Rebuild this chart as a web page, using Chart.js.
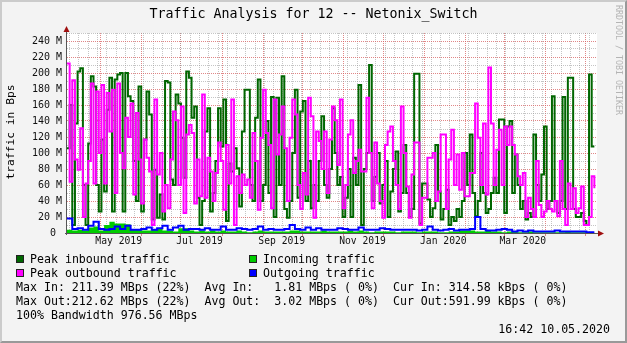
<!DOCTYPE html>
<html>
<head>
<meta charset="utf-8">
<title>Traffic Analysis for 12 -- Netonix_Switch</title>
<script src="https://cdn.jsdelivr.net/npm/chart.js@4.4.1/dist/chart.umd.min.js"></script>
<style>
  html, body { margin: 0; padding: 0; background: #f3f3f3; }
  #wrap { position: relative; width: 627px; height: 343px; overflow: hidden; background: #f3f3f3;
          font-family: 'DejaVu Sans Mono', monospace; color: #000; }
  #wrap canvas { position: absolute; left: 0; top: 0; }
  #frame { position: absolute; left: 0; top: 0; width: 627px; height: 343px; box-sizing: border-box;
           border-left: 2px solid #cbcbcb; border-top: 2px solid #cbcbcb;
           border-right: 2px solid #999; border-bottom: 2px solid #999; pointer-events: none; }
  .txt { position: absolute; white-space: pre; line-height: 14px; height: 14px; }
  #title { left: 0; width: 627px; top: 7px; text-align: center; font-size: 13.3px; }
  #ytitle { left: 11px; top: 132px; font-size: 11.3px; transform: translate(-50%, -50%) rotate(-90deg); }
  #wm { left: 615px; top: 5px; font-size: 8.3px; line-height: 8px; height: auto; color: #b4b4b4;
        writing-mode: vertical-rl; }
  .leg, .stat { font-size: 11.6px; }
  .box { position: absolute; width: 8px; height: 8px; box-sizing: border-box; border: 1px solid #222; }
</style>
</head>
<body>
<div id="wrap">
  <canvas id="chart" width="627" height="343"></canvas>
  <div class="txt" id="title">Traffic Analysis for 12 -- Netonix_Switch</div>
  <div class="txt" id="ytitle">traffic in Bps</div>
  <div class="txt" id="wm">RRDTOOL / TOBI OETIKER</div>
  <div id="frame"></div>
</div>
<script>
// values in M (Bps), one per 2 days for the peaks, one per 4 days for the averages
const peakIn = [
  106,160,10,137,202,206,60,10,112,196,183,60,27,117,52,154,194,27,192,198,
  200,27,200,171,165,90,40,183,27,117,177,148,17,79,19,48,17,190,188,67,
  60,173,162,119,69,202,194,144,158,44,10,40,127,156,27,50,90,156,108,167,
  15,87,77,106,81,33,127,
  179,179,60,40,144,192,40,60,140,50,170,20,169,60,196,30,19,40,100,179,
  44,152,165,40,90,31,60,40,90,146,60,44,80,156,100,60,70,20,44,80,
  20,94,60,185,10,80,100,210,40,70,100,37,60,90,20,52,80,102,27,50,
  110,50,20,30,199,199,
  12,62,62,42,20,31,110,52,17,30,54,10,20,15,30,20,40,100,60,123,
  50,21,40,100,50,25,30,50,69,50,142,142,25,133,140,50,98,60,30,40,
  17,25,20,123,60,40,73,133,30,40,171,40,25,40,170,30,194,194,30,20,
  20,25,15,10,198,108,108
];
const peakOut = [
  212,64,191,92,79,131,20,62,90,187,62,177,100,185,62,175,127,179,50,187,
  100,81,144,120,162,48,150,92,37,117,94,77,10,167,73,100,27,60,31,92,
  152,141,60,158,25,123,135,125,37,92,46,173,44,94,77,40,75,113,90,29,
  110,62,167,10,71,50,73,
  60,67,44,125,90,29,119,179,125,110,31,167,98,123,158,106,40,119,167,148,
  60,30,75,48,169,146,19,127,115,80,127,50,117,158,141,85,167,31,60,123,
  141,75,90,104,77,77,169,100,31,113,62,40,19,110,127,133,90,60,30,158,
  100,58,19,73,113,113,
  10,44,44,94,94,100,40,52,123,123,30,92,129,60,98,54,100,46,46,75,
  75,162,119,60,137,48,207,137,60,104,129,60,133,110,133,110,98,71,60,75,
  20,44,30,20,90,35,20,27,40,30,27,40,21,90,30,10,62,30,56,25,
  31,58,10,10,20,71,56
];
const incoming = [
  4,3,4,3,7,8,3,10,14,12,12,11,5,4,3,3,4,5,3,3,
  2,6,6,3,2,3,2,3,2,3,2,2,3,2,1,2,3,2,2,2,
  2,2,3,3,2,2,2,2,3,2,2,2,2,3,2,3,2,1,2,2,
  2,2,1,2,2,2,1,2,2,2,1,1,2,2,3,3,3,2,2,3,
  2,2,1,2,2,1,1,2,1,1,1,1,1,1,2,1,1,1,1,1
];
const outgoing = [
  18,5,6,4,9,14,5,4,5,8,5,9,4,4,5,7,4,6,9,4,
  7,9,4,5,5,4,6,4,4,8,4,4,6,5,4,5,8,4,5,4,
  4,5,10,5,4,7,4,6,4,4,4,6,5,4,4,7,4,4,4,6,
  5,4,4,4,4,4,3,4,8,4,3,4,5,3,4,4,5,20,5,3,
  3,4,5,4,2,3,2,3,2,2,2,2,3,2,2,2,2,2,1,1
];

const yTickValues = [0, 20, 40, 60, 80, 100, 120, 140, 160, 180, 200, 220, 240];
const yTickLabels = ['0 ', '20 M', '40 M', '60 M', '80 M', '100 M', '120 M', '140 M', '160 M', '180 M', '200 M', '220 M', '240 M'];
const xTickLabels = ['May 2019', 'Jul 2019', 'Sep 2019', 'Nov 2019', 'Jan 2020', 'Mar 2020'];
const xTickDates = ['2019-05-15', '2019-07-15', '2019-09-15', '2019-11-15', '2020-01-15', '2020-03-15'];
const monthDates = ['2019-05-01', '2019-06-01', '2019-07-01', '2019-08-01', '2019-09-01', '2019-10-01',
  '2019-11-01', '2019-12-01', '2020-01-01', '2020-02-01', '2020-03-01', '2020-04-01', '2020-05-01'];

const legendLabels = ['Peak inbound traffic', 'Incoming traffic', 'Peak outbound traffic', 'Outgoing traffic'];
const legendColors = ['#006600', '#00CC00', '#FF00FF', '#0000FF'];
const statsLines = [
  'Max In: 211.39 MBps (22%)  Avg In:   1.81 MBps ( 0%)  Cur In: 314.58 kBps ( 0%)',
  'Max Out:212.62 MBps (22%)  Avg Out:  3.02 MBps ( 0%)  Cur Out:591.99 kBps ( 0%)',
  '100% Bandwidth 976.56 MBps'
];
const stamp = '16:42 10.05.2020';

const START = Date.parse('2019-04-06T00:00:00Z');
const dayOf = s => (Date.parse(s + 'T00:00:00Z') - START) / 86400000;
const labelDays = xTickDates.map(dayOf);
const monthDays = monthDates.map(dayOf);
const weekDays = [];
for (let d = 2; d < 400; d += 7) weekDays.push(d);
const yGrid = [];
for (let v = 0; v <= 250; v += 10) yGrid.push(v);

const MAJOR = 'rgba(215,95,95,0.75)';
const MINOR = 'rgba(150,150,150,0.55)';
const FONT = "'DejaVu Sans Mono', monospace";

function toPoints(values, step) {
  const pts = values.map((v, i) => ({ x: i * step, y: v }));
  pts.push({ x: Math.min(values.length * step, 398), y: values[values.length - 1] });
  return pts;
}

// text parts
const wrap = document.getElementById('wrap');
function addText(cls, text, left, cy, extra) {
  const el = document.createElement('div');
  el.className = 'txt ' + cls;
  el.textContent = text;
  el.style.left = left + 'px';
  el.style.top = (cy - 7) + 'px';
  if (extra) Object.assign(el.style, extra);
  wrap.insertBefore(el, document.getElementById('frame'));
  return el;
}
legendLabels.forEach((lab, i) => {
  const col = i % 2, row = Math.floor(i / 2);
  const cy = 259 + row * 14;
  const bx = col ? 249 : 16;
  const box = document.createElement('div');
  box.className = 'box';
  box.style.left = bx + 'px';
  box.style.top = (cy - 4) + 'px';
  box.style.background = legendColors[i];
  wrap.insertBefore(box, document.getElementById('frame'));
  addText('leg', lab, bx + 14, cy);
});
statsLines.forEach((s, i) => addText('stat', s, 16, 287 + i * 14));
addText('stat', stamp, 0, 329, { left: 'auto', right: '17px' });

const frame = {
  id: 'frame',
  beforeDraw(chart) {
    const { ctx, chartArea: a } = chart;
    ctx.save();
    ctx.fillStyle = '#ffffff';
    ctx.fillRect(a.left, a.top, a.right - a.left, a.bottom - a.top);
    ctx.restore();
  },
  afterDatasetsDraw(chart) {
    const { ctx, chartArea: a } = chart;
    ctx.save();
    ctx.strokeStyle = '#555';
    ctx.lineWidth = 1;
    ctx.beginPath();
    ctx.moveTo(a.left - 0.5, a.bottom + 2);
    ctx.lineTo(a.left - 0.5, a.top - 2);
    ctx.moveTo(a.left - 2, a.bottom + 0.5);
    ctx.lineTo(a.right + 2, a.bottom + 0.5);
    ctx.stroke();
    ctx.fillStyle = '#a01010';
    ctx.beginPath();
    ctx.moveTo(a.left - 3.5, a.top - 1);
    ctx.lineTo(a.left + 2.5, a.top - 1);
    ctx.lineTo(a.left - 0.5, a.top - 7);
    ctx.closePath();
    ctx.fill();
    ctx.beginPath();
    ctx.moveTo(a.right + 1, a.bottom - 2.5);
    ctx.lineTo(a.right + 1, a.bottom + 3.5);
    ctx.lineTo(a.right + 7, a.bottom + 0.5);
    ctx.closePath();
    ctx.fill();
    ctx.restore();
  }
};

new Chart(document.getElementById('chart'), {
  type: 'line',
  data: {
    datasets: [
      { label: 'Outgoing traffic', data: toPoints(outgoing, 4), borderColor: '#0000FF', borderWidth: 2, fill: false, stepped: true },
      { label: 'Peak outbound traffic', data: toPoints(peakOut, 2), borderColor: '#FF00FF', borderWidth: 2, fill: false, stepped: true },
      { label: 'Peak inbound traffic', data: toPoints(peakIn, 2), borderColor: '#006600', borderWidth: 2, fill: false, stepped: true },
      { label: 'Incoming traffic', data: toPoints(incoming, 4), borderColor: '#00CC00', backgroundColor: '#00CC00', borderWidth: 0, fill: 'origin', stepped: true }
    ]
  },
  options: {
    responsive: false,
    animation: false,
    devicePixelRatio: 1,
    elements: { point: { radius: 0 }, line: { tension: 0, borderJoinStyle: 'miter', borderCapStyle: 'butt' } },
    layout: { padding: { left: 0, top: 33, right: 30, bottom: 90 } },
    plugins: { legend: { display: false }, tooltip: { enabled: false } },
    scales: {
      x: {
        type: 'linear', min: 0, max: 400,
        afterBuildTicks: s => {
          s.ticks = monthDays.concat(labelDays).sort((p, q) => p - q).map(v => ({ value: v }));
        },
        afterFit: s => { s.height = 20; },
        ticks: {
          autoSkip: false, maxRotation: 0, padding: 0, color: '#111', font: { family: FONT, size: 9.7 },
          callback: v => { const k = labelDays.indexOf(v); return k >= 0 ? xTickLabels[k] : ''; }
        },
        grid: {
          color: c => labelDays.includes(c.tick.value) ? 'rgba(0,0,0,0)' : MAJOR,
          drawTicks: true, tickLength: 3
        },
        border: { display: false, dash: [1, 1] }
      },
      x2: {
        type: 'linear', position: 'bottom', min: 0, max: 400, z: -1,
        afterBuildTicks: s => { s.ticks = weekDays.map(v => ({ value: v })); },
        afterFit: s => { s.height = 0; },
        ticks: { display: false, autoSkip: false },
        grid: { color: MINOR, drawTicks: false },
        border: { display: false, dash: [1, 1] }
      },
      y: {
        min: 0, max: 250,
        afterBuildTicks: s => { s.ticks = yGrid.map(v => ({ value: v })); },
        afterFit: s => { s.width = 67; },
        ticks: {
          autoSkip: false, padding: 5, color: '#111', font: { family: FONT, size: 10 },
          callback: v => { const k = yTickValues.indexOf(v); return k >= 0 ? yTickLabels[k] : ''; }
        },
        grid: { drawTicks: false, color: c => (c.tick.value % 20 === 0 && c.tick.value <= 240) ? MAJOR : MINOR },
        border: { display: false, dash: [1, 1] }
      }
    }
  },
  plugins: [frame]
});
</script>
</body>
</html>
